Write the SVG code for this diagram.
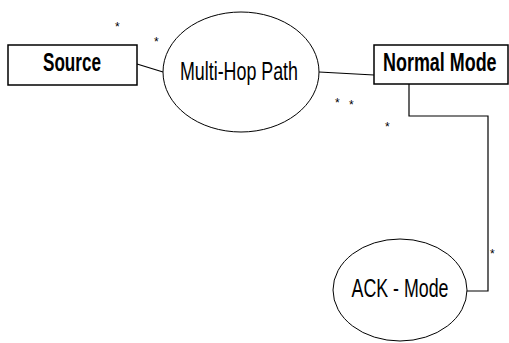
<svg xmlns="http://www.w3.org/2000/svg" width="509" height="343" viewBox="0 0 509 343">
<style>
.box{fill:#fff;stroke:#000;stroke-width:1.5}
.ell{fill:#fff;stroke:#000;stroke-width:1}
.conn{fill:none;stroke:#000;stroke-width:1.2}
.t{font-family:"Liberation Sans",Arial,sans-serif;font-size:26px;fill:#000}
.b{font-weight:bold}
.star{font-family:"Liberation Sans",Arial,sans-serif;font-size:12px;fill:#000}
</style>
<rect width="509" height="343" fill="#fff"/>
<g id="connectors">
<line class="conn" x1="137" y1="64" x2="163" y2="72"/>
<line class="conn" x1="319" y1="72" x2="374" y2="75"/>
<polyline class="conn" points="409,84 409,116 488,116 488,291 467,291"/>
</g>
<g id="source">
<rect class="box" x="8" y="45" width="129" height="40"/>
<text class="t b" x="72" y="71" text-anchor="middle" textLength="58" lengthAdjust="spacingAndGlyphs">Source</text>
</g>
<g id="multihop">
<ellipse class="ell" cx="241" cy="72" rx="78" ry="60"/>
<text class="t" x="239" y="80" text-anchor="middle" textLength="118" lengthAdjust="spacingAndGlyphs">Multi-Hop Path</text>
</g>
<g id="normal">
<rect class="box" x="374" y="45" width="134" height="39"/>
<text class="t b" transform="translate(383,71) scale(0.69,1)" x="0" y="0">Normal Mode</text>
</g>
<g id="ack">
<ellipse class="ell" cx="400" cy="290" rx="67" ry="51"/>
<text class="t" x="400" y="297" text-anchor="middle" textLength="97" lengthAdjust="spacingAndGlyphs">ACK - Mode</text>
</g>
<g id="labels">
<text class="star" x="115" y="31">*</text>
<text class="star" x="154" y="46">*</text>
<text class="star" x="335" y="107">*</text>
<text class="star" x="349" y="109">*</text>
<text class="star" x="385" y="131">*</text>
<text class="star" x="490" y="258">*</text>
</g>
</svg>
